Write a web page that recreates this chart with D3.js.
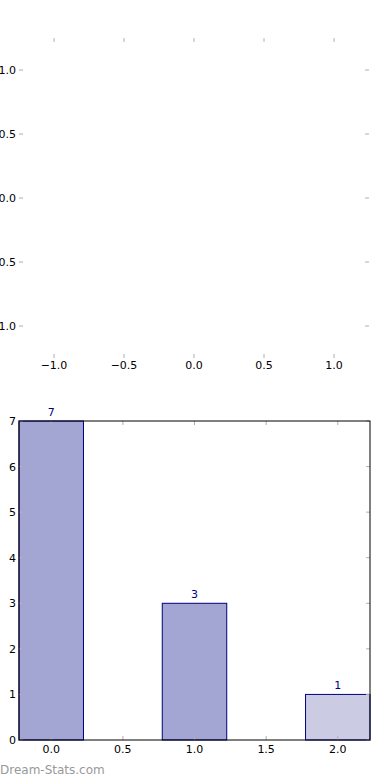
<!DOCTYPE html>
<html><head><meta charset="utf-8">
<script src="https://cdn.jsdelivr.net/npm/d3@7"></script>
<style>
html,body{margin:0;padding:0;background:#fff;}
svg text{font-family:"DejaVu Sans",sans-serif;}
</style></head>
<body><svg id="c" width="390" height="780"></svg>
<script>
// Top (empty) panel ticks
const topXTicks = [-1.0, -0.5, 0.0, 0.5, 1.0];
const topYTicks = [-1.0, -0.5, 0.0, 0.5, 1.0];
// Bottom bar chart
const categories = [0, 1, 2];
const values = [7, 3, 1];
const barColors = ["#a3a5d3", "#a3a5d3", "#cbcce3"];
const bottomXTicks = [0.0, 0.5, 1.0, 1.5, 2.0];
const bottomYTicks = [0, 1, 2, 3, 4, 5, 6, 7];

const svg = d3.select("#c");
const tickCol = "#b0b0b0";
const fmt1 = d => d3.format(".1f")(d).replace("-", "\u2212");

// ---- Top panel ----
const tx = d3.scaleLinear().domain([-1.25, 1.25]).range([19, 369]);
const ty = d3.scaleLinear().domain([-1.25, 1.25]).range([358, 38]);
const topG = svg.append("g");
topXTicks.forEach(v => {
  topG.append("line").attr("x1", tx(v)).attr("x2", tx(v)).attr("y1", ty.range()[1]).attr("y2", ty.range()[1] + 4).attr("stroke", tickCol);
  topG.append("line").attr("x1", tx(v)).attr("x2", tx(v)).attr("y1", ty.range()[0]).attr("y2", ty.range()[0] - 4).attr("stroke", tickCol);
  topG.append("text").attr("x", tx(v)).attr("y", 369).attr("text-anchor", "middle").attr("font-size", 11).attr("fill", "#000").text(fmt1(v));
});
topYTicks.forEach(v => {
  topG.append("line").attr("x1", tx.range()[0]).attr("x2", tx.range()[0] + 4).attr("y1", ty(v)).attr("y2", ty(v)).attr("stroke", tickCol);
  topG.append("line").attr("x1", tx.range()[1]).attr("x2", tx.range()[1] - 4).attr("y1", ty(v)).attr("y2", ty(v)).attr("stroke", tickCol);
  topG.append("text").attr("x", 16).attr("y", ty(v) + 4).attr("text-anchor", "end").attr("font-size", 11).attr("fill", "#000").text(fmt1(v));
});

// ---- Bottom panel ----
const bw = 0.45;
const x = d3.scaleLinear().domain([-0.225, 2.225]).range([19, 370]);
const y = d3.scaleLinear().domain([0, 7]).range([740, 421]);
const g = svg.append("g");

g.selectAll("rect.bar").data(categories).enter().append("rect")
  .attr("class", "bar")
  .attr("x", (d) => x(d - bw / 2))
  .attr("width", (d) => x(d + bw / 2) - x(d - bw / 2))
  .attr("y", (d, i) => y(values[i]))
  .attr("height", (d, i) => y(0) - y(values[i]))
  .attr("fill", (d, i) => barColors[i])
  .attr("stroke", "#000080").attr("stroke-width", 1);

g.selectAll("text.val").data(categories).enter().append("text")
  .attr("x", d => x(d)).attr("y", (d, i) => y(values[i]) - 5)
  .attr("text-anchor", "middle").attr("font-size", 11).attr("fill", "#000080")
  .text((d, i) => values[i]);

bottomXTicks.forEach(v => {
  g.append("line").attr("x1", x(v)).attr("x2", x(v)).attr("y1", y(0)).attr("y2", y(0) - 4).attr("stroke", tickCol);
  g.append("line").attr("x1", x(v)).attr("x2", x(v)).attr("y1", y(7)).attr("y2", y(7) + 4).attr("stroke", tickCol);
  g.append("text").attr("x", x(v)).attr("y", 753).attr("text-anchor", "middle").attr("font-size", 11).attr("fill", "#000").text(d3.format(".1f")(v));
});
bottomYTicks.forEach(v => {
  g.append("line").attr("x1", x.range()[0]).attr("x2", x.range()[0] + 4).attr("y1", y(v)).attr("y2", y(v)).attr("stroke", tickCol);
  g.append("line").attr("x1", x.range()[1]).attr("x2", x.range()[1] - 4).attr("y1", y(v)).attr("y2", y(v)).attr("stroke", tickCol);
  g.append("text").attr("x", 16).attr("y", y(v) + 4).attr("text-anchor", "end").attr("font-size", 11).attr("fill", "#000").text(v);
});

g.append("rect").attr("x", x.range()[0]).attr("y", y(7))
  .attr("width", x.range()[1] - x.range()[0]).attr("height", y(0) - y(7))
  .attr("fill", "none").attr("stroke", "#000").attr("stroke-width", 1);

svg.append("text").attr("x", 0).attr("y", 774).attr("font-size", 12)
  .attr("fill", "#999").text("Dream-Stats.com");
</script>
</body></html>
